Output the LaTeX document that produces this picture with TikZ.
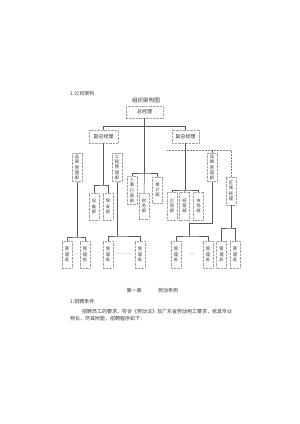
\documentclass[tikz,border=0pt]{standalone}
\usepackage{fontspec}
\newfontfamily\cjk{Noto Sans CJK SC}
\begin{document}
\begin{tikzpicture}[
  x=1pt,y=-1pt,
  line/.style={draw=black!65,line width=0.5pt},
  bus/.style={draw=black!50,line width=0.5pt,densely dotted},
  unit/.style={draw=gray!75,densely dotted,line width=0.4pt,inner sep=0pt,
    text=black!80,font=\cjk\fontsize{5}{6}\selectfont},
  col/.style={unit,minimum width=10pt,minimum height=28pt,align=center,
    font=\cjk\fontsize{4.3}{5.3}\selectfont},
  txt/.style={inner sep=0pt,text=black!80,font=\cjk\fontsize{5}{6}\selectfont}]
  \path[use as bounding box,fill=white] (0,0) rectangle (300,424);
  % headings
  \node[txt,anchor=west] (head) at (70,94) {1.公司架构};
  \node[txt,font=\cjk\fontsize{5.6}{6.6}\selectfont] (title) at (146,100) {组织架构图};
  % top levels
  \node[unit,minimum width=37pt,minimum height=12pt] (gm) at (144.5,112) {总经理};
  \node[unit,minimum width=29pt,minimum height=13pt] (vpA) at (103.5,136.5) {副总经理};
  \node[unit,minimum width=27pt,minimum height=13pt] (vpB) at (185.5,136.5) {副总经理};
  % departments
  \node[col] (qa) at (77,167.5) {品\\质\\管\\理\\部};
  \node[col] (eng) at (117,167.5) {工\\程\\管\\理\\部};
  \node[col,minimum height=27pt] (eqp) at (94,206.5) {设\\备\\部};
  \node[col,minimum height=27pt] (sec) at (108,206.5) {保\\安\\部};
  \node[col] (hr) at (132,190.5) {人\\事\\行\\政\\部};
  \node[col,minimum height=26pt] (fin) at (144,206) {财\\务\\部};
  \node[col,minimum height=26pt] (aud) at (157.5,190) {审\\计\\部};
  \node[col] (plan) at (172,206) {企\\划\\部};
  \node[col] (ops) at (184.5,206) {经\\营\\部};
  \node[col] (mkt) at (198.5,206) {市\\场\\部};
  \node[col] (brand) at (212,167.5) {品\\牌\\管\\理\\部};
  \node[col] (area) at (231,191) {区\\域\\经\\理};
  % offices
  \foreach \n/\x in {m1/67,m2/85,m3/108,m4/140,m5/176,m6/208,m7/221.5,m8/235}
    \node[col,minimum height=27pt] (\n) at (\x,254.5) {管\\理\\处};
  \node[txt] (dA) at (76,254.5) {…};
  \node[txt] (dB) at (121.5,254.5) {……\ \ …};
  \node[txt] (dC) at (192,254.5) {…};
  \node[txt] (dD) at (228.3,254.5) {-};
  % bus points
  \coordinate (mid) at (144.5,173);
  \coordinate (lA) at (103.5,185);
  \coordinate (lB) at (77,237);
  \coordinate (lC) at (117,236);
  \coordinate (rbus) at (167,150);
  \coordinate (rC) at (185.5,190);
  \coordinate (rD) at (189,236);
  \coordinate (rE) at (231,228);
  % connectors
  \draw[line] (vpA.north) -- ++(0,-3.5) -| (vpB.north);
  \draw[line] (gm.south) -- (mid);
  \draw[line] (hr.north) |- (mid) -| (aud.north);
  \draw[line] (mid) -- (fin.north);
  \draw[line] (vpA.south) -- (lA);
  \draw[line] (eqp.north) |- (lA) -| (sec.north);
  \draw[line] (qa.south) -- (lB);
  \draw[line] (m1.north) |- (lB) -| (m2.north);
  \draw[line] (eng.south) -- (lC);
  \draw[line] (m3.north) |- (lC) -| (m4.north);
  \draw[bus] (rbus) -| (area.north);
  \draw[line] (brand.north) -- (brand.north |- rbus);
  \draw[line] (vpB.south) -- (rC);
  \draw[line] (plan.north) |- (rC) -| (mkt.north);
  \draw[line] (rC) -- (ops.north);
  \draw[line] (brand.south) -- ++(0,42) -| (rD);
  \draw[line] (m5.north) |- (rD) -| (m6.north);
  \draw[line] (area.south) -- (rE);
  \draw[line] (m7.north) |- (rE) -| (m8.north);
  % text below
  \node[txt] (chap) at (134,291) {第一章};
  \node[txt] (chapname) at (168,291) {劳动条例};
  \node[txt,anchor=west] (sub) at (70,302) {1.招聘条件};
  \node[txt,anchor=west] (para1) at (82,312) {招聘员工的要求，符合《劳动法》及广东省劳动用工要求，依其专业};
  \node[txt,anchor=west] (para2) at (70,318.5) {特长，尽其所能，招聘程序如下：};
\end{tikzpicture}
\end{document}
